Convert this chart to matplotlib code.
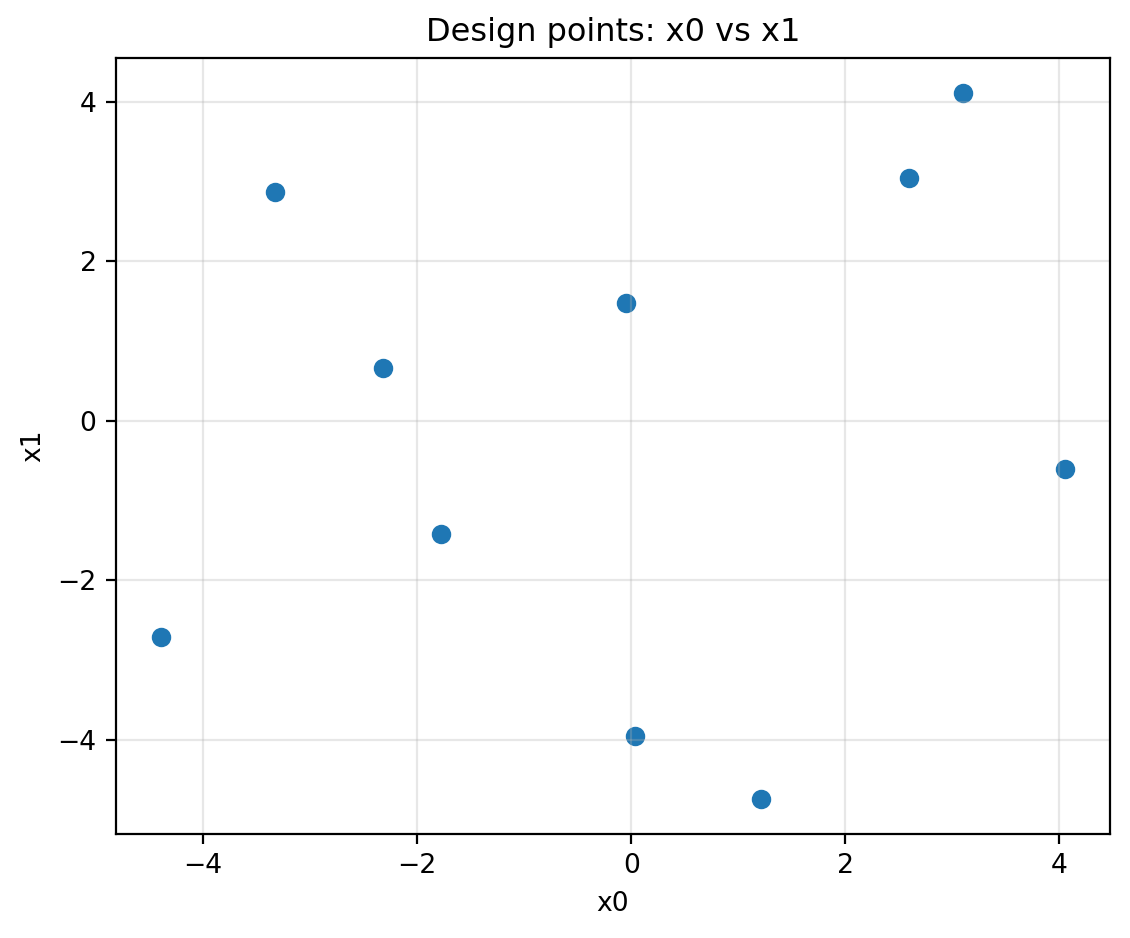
import numpy as np
import matplotlib
matplotlib.use("Agg")
import matplotlib.pyplot as plt

# design points
x0 = [-4.39, -3.33, -2.32, -1.78, -0.05, 0.04, 1.21, 2.59, 3.10, 4.05]
x1 = [-2.71, 2.87, 0.66, -1.42, 1.48, -3.95, -4.74, 3.05, 4.11, -0.60]

plt.rcParams['font.size'] = 9.6

fig = plt.figure(figsize=(5.65, 4.69), dpi=200)
ax = fig.add_axes([116 / 1130, 1 - 834 / 938, (1110 - 116) / 1130, (834 - 58) / 938])
ax.scatter(x0, x1, s=36, color="#1f77b4")
ax.set_title("Design points: x0 vs x1")
ax.set_xlabel("x0")
ax.set_ylabel("x1")
ax.grid(True, alpha=0.3)
fig.savefig("out.png", dpi=200)
